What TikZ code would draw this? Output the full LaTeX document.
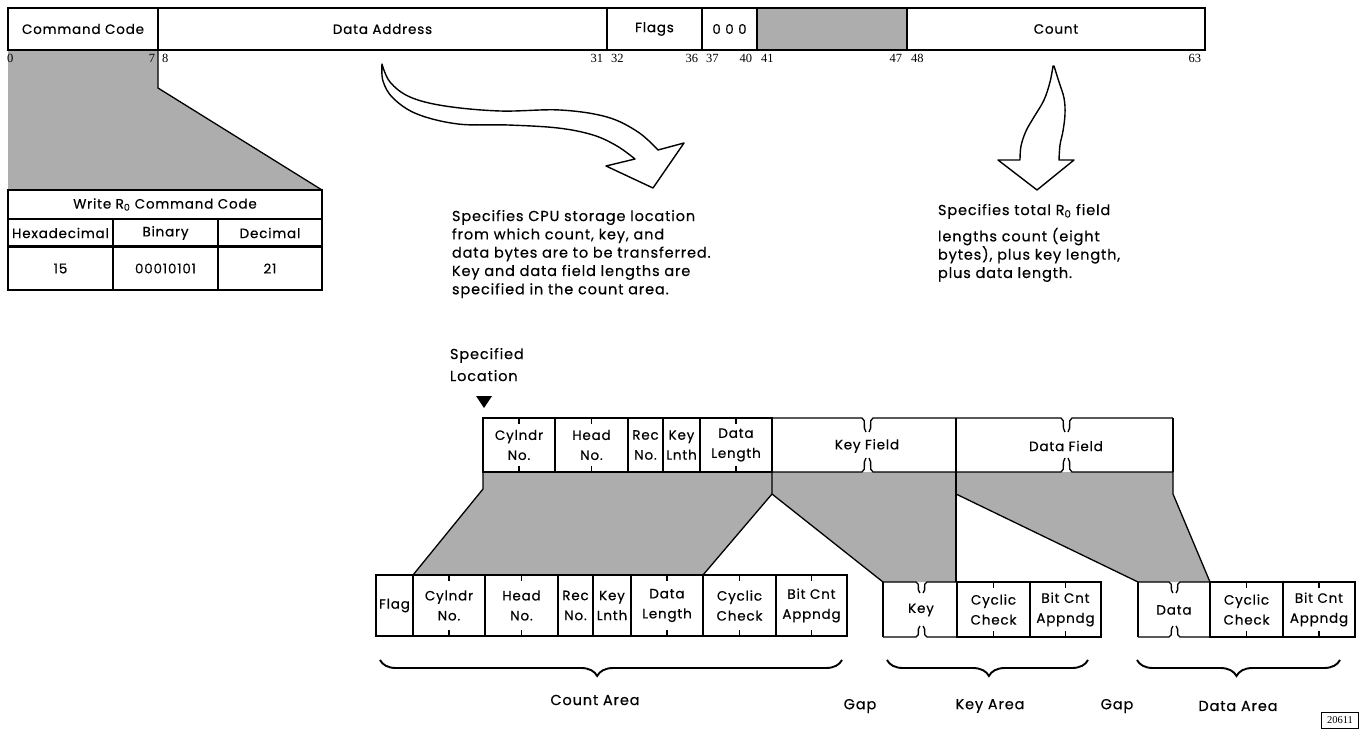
\documentclass[tikz,border=0pt]{standalone}
\usepackage{fontspec}
\setmainfont{Poppins}[LetterSpace=6, FakeBold=0.4]
\newfontfamily\numfont{Liberation Serif}
\usetikzlibrary{decorations.pathreplacing}
\definecolor{stip}{gray}{0.68}
\newcommand{\boxfont}{\fontsize{13.5}{20}\selectfont}
\newcommand{\lblfont}{\fontsize{14.5}{18.3}\selectfont}
\newcommand{\fieldbreak}[5]{%
  \draw (#1,#4) -- ({#2-4},#4) .. controls ({#2+1},{#4+0.2*(#5)}) and ({#2-4},{#4+0.65*(#5)}) .. ({#2},{#4+(#5)});
  \draw ({#2+3},{#4+(#5)}) .. controls ({#2+7},{#4+0.65*(#5)}) and ({#2+2},{#4+0.2*(#5)}) .. ({#2+7},#4) -- (#3,#4);}
\begin{document}
\begin{tikzpicture}[x=1pt, y=-1pt, line width=1.3pt,
  every node/.style={inner sep=0pt, outer sep=0pt},
  fbox/.style={draw, anchor=north west, align=center, font=\boxfont, fill=white},
  lbl/.style={font=\lblfont},
  num/.style={font=\numfont\fontsize{12.5}{13}\selectfont},
  area/.style={decorate, decoration={brace, mirror, amplitude=16pt, aspect=#1}, line width=1.9pt},
  hollow/.style={draw, fill=white, line width=1.4pt, line join=round}]
\useasboundingbox (0,0) rectangle (1363,730);

% ---- shaded projections
\fill[stip] (8,50) -- (158,50) -- (158,88) -- (322,190) -- (8,190) -- cycle;
\draw (158,50) -- (158,88) -- (322,190);
\fill[stip] (483,472) -- (772,472) -- (772,494) -- (703,575) -- (413,575) -- (483,489) -- cycle;
\fill[stip] (772,472) -- (956,472) -- (956,582) -- (883,582) -- (772,494) -- cycle;
\fill[stip] (956,472) -- (1173,472) -- (1173,494) -- (1210,582) -- (1138,582) -- (956,494) -- cycle;
\draw (483,472) -- (483,489) -- (413,575);
\draw (772,472) -- (772,494) -- (703,575);
\draw (772,494) -- (883,582);
\draw (956,472) -- (956,582);
\draw (956,494) -- (1138,582);
\draw (1173,472) -- (1173,494) -- (1210,582);

% ---- top command word
\begin{scope}[every node/.append style={font=\fontsize{14.5}{16}\selectfont, minimum height=42}]
\node[fbox, minimum width=150] (cc) at (8,8) {Command Code};
\node[fbox, minimum width=449] (da) at (158,8) {Data Address};
\node[fbox, minimum width=95] (fl) at (607,8) {Flags};
\node[fbox, minimum width=55] (zz) at (702,8) {0 0 0};
\node[fbox, minimum width=150, fill=stip] (sh) at (757,8) {};
\node[fbox, minimum width=298] (ct) at (907,8) {Count};
\end{scope}
\node[num, anchor=west] (b0) at (7,58) {0};
\node[num, anchor=east] (b7) at (155,58) {7};
\node[num, anchor=west] (b8) at (162,58) {8};
\node[num, anchor=east] (b31) at (603,58) {31};
\node[num, anchor=west] (b32) at (611,58) {32};
\node[num, anchor=east] (b36) at (698,58) {36};
\node[num, anchor=west] (b37) at (706,58) {37};
\node[num, anchor=east] (b40) at (752,58) {40};
\node[num, anchor=west] (b41) at (761,58) {41};
\node[num, anchor=east] (b47) at (902,58) {47};
\node[num, anchor=west] (b48) at (911,58) {48};
\node[num, anchor=east] (b63) at (1201,58) {63};

% ---- command code table
\begin{scope}[every node/.append style={font=\fontsize{14}{16}\selectfont}]
\node[fbox, minimum width=314, minimum height=29] (tt) at (8,190) {Write R\textsubscript{0} Command Code};
\node[fbox, minimum width=105, minimum height=28] (th1) at (8,219) {Hexadecimal};
\node[fbox, minimum width=105, minimum height=28] (th2) at (113,219) {Binary};
\node[fbox, minimum width=104, minimum height=28] (th3) at (218,219) {Decimal};
\node[fbox, minimum width=105, minimum height=43] (td1) at (8,247) {15};
\node[fbox, minimum width=105, minimum height=43] (td2) at (113,247) {00010101};
\node[fbox, minimum width=104, minimum height=43] (td3) at (218,247) {21};
\end{scope}
\draw[line width=3pt] (th1.south west) -- (th3.south east);

% ---- hollow arrows
\draw[hollow] plot[smooth, tension=0.6] coordinates {(382,64) (390,82) (410,97) (445,106) (500,111) (560,110) (607,117) (638,132) (658,150)}
  -- (684,143) -- (653,188) -- (606,166)
  -- plot[smooth, tension=0.6] coordinates {(635,159) (617,146) (593,135) (558,128) (508,125) (458,124) (417,114) (393,98) (383,81) (382,64)} -- cycle;
\draw[hollow] plot[smooth, tension=0.6] coordinates {(1054,66) (1059,82) (1064,98) (1065,114) (1063,131) (1060,145) (1059,160)}
  -- (1074,160) -- (1037,190) -- (998,160)
  -- plot[smooth, tension=0.6] coordinates {(1020,160) (1021,146) (1026,131) (1034,117) (1044,100) (1050,82) (1053,66)} -- cycle;

% ---- descriptions
\node[anchor=north west, align=left, lbl] (desc1) at (452,210) {Specifies CPU storage location\\from which count, key, and\\data bytes are to be transferred.\\Key and data field lengths are\\specified in the count area.};
\node[anchor=north west, align=left, lbl] (desc2) at (938,204) {Specifies total R\textsubscript{0} field\\[8pt]lengths count (eight\\bytes), plus key length,\\plus data length.};
\node[anchor=north west, align=left, font=\fontsize{14.5}{22}\selectfont] (sloc) at (450,348) {Specified\\Location};
\fill (476,396) -- (492,396) -- (484,408) -- cycle;

% ---- record in storage
\node[fbox, minimum width=72, minimum height=54] (cy1) at (483,418) {Cylndr\\No.};
\node[fbox, minimum width=73, minimum height=54] (hd1) at (555,418) {Head\\No.};
\node[fbox, minimum width=35, minimum height=54] (rc1) at (628,418) {Rec\\No.};
\node[fbox, minimum width=37, minimum height=54] (kl1) at (663,418) {Key\\Lnth};
\node[fbox, minimum width=72, minimum height=54] (dl1) at (700,418) {Data\\Length};
\fieldbreak{772}{866}{956}{418}{14}
\fieldbreak{772}{866}{956}{472}{-14}
\fieldbreak{956}{1065}{1173}{418}{14}
\fieldbreak{956}{1065}{1173}{472}{-14}
\draw (956,418) -- (956,472);
\draw (1173,418) -- (1173,472);
\node[font=\boxfont] (kft) at (867,446) {Key Field};
\node[font=\boxfont] (dft) at (1066,446) {Data Field};

% ---- record on track
\node[fbox, minimum width=37, minimum height=61] (fg) at (376,575) {Flag};
\node[fbox, minimum width=72, minimum height=61] (cy2) at (413,575) {Cylndr\\No.};
\node[fbox, minimum width=73, minimum height=61] (hd2) at (485,575) {Head\\No.};
\node[fbox, minimum width=35, minimum height=61] (rc2) at (558,575) {Rec\\No.};
\node[fbox, minimum width=38, minimum height=61] (kl2) at (593,575) {Key\\Lnth};
\node[fbox, minimum width=72, minimum height=61] (dl2) at (631,575) {Data\\Length};
\node[fbox, minimum width=73, minimum height=61] (cc2) at (703,575) {Cyclic\\Check};
\node[fbox, minimum width=71, minimum height=61] (bc2) at (776,575) {Bit Cnt\\Appndg};

\fieldbreak{883}{920}{957}{582}{11}
\fieldbreak{883}{920}{957}{637}{-11}
\draw (883,582) -- (883,637);
\node[font=\boxfont] (kyt) at (921,610) {Key};
\node[fbox, minimum width=73, minimum height=55] (cc3) at (957,582) {Cyclic\\Check};
\node[fbox, minimum width=71, minimum height=55] (bc3) at (1030,582) {Bit Cnt\\Appndg};

\fieldbreak{1138}{1173}{1210}{582}{11}
\fieldbreak{1138}{1173}{1210}{637}{-11}
\draw (1138,582) -- (1138,637);
\node[font=\boxfont] (dtt) at (1174,610) {Data};
\node[fbox, minimum width=73, minimum height=55] (cc4) at (1210,582) {Cyclic\\Check};
\node[fbox, minimum width=72, minimum height=55] (bc4) at (1283,582) {Bit Cnt\\Appndg};

% ---- ticks
\foreach \n in {cy1,hd1,dl1,cy2,hd2,dl2,cc2,bc2,cc3,bc3,cc4,bc4} {
  \draw (\n.north) -- ++(0,6);
  \draw (\n.south) -- ++(0,-6);
}

% ---- braces and labels
\draw[area=0.47] (380,660) -- (842,660);
\draw[area=0.507] (887,660) -- (1088,660);
\draw[area=0.49] (1137,660) -- (1340,660);
\node[lbl] (ca) at (595,700) {Count Area};
\node[lbl] (g1) at (860,706) {Gap};
\node[lbl] (ka) at (990,706) {Key Area};
\node[lbl] (g2) at (1117,706) {Gap};
\node[lbl] (dA) at (1238,706) {Data Area};
\node[draw, line width=0.7pt, minimum width=37, minimum height=16, font=\numfont\fontsize{10.5}{11}\selectfont] (fig) at (1340,720) {20611};
\end{tikzpicture}
\end{document}
